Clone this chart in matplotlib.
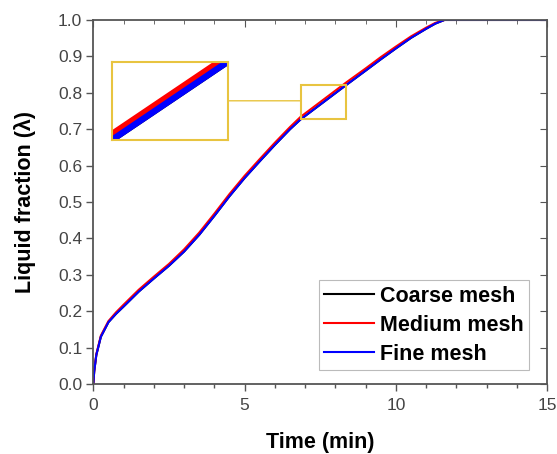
import matplotlib.pyplot as plt
import numpy as np
from matplotlib.patches import Rectangle, ConnectionPatch
from matplotlib.ticker import MultipleLocator

plt.rcParams['font.family'] = ['Liberation Sans', 'DejaVu Sans']

# czas topnienia (min) i udzial fazy cieklej dla trzech siatek
czas = [0, 0.03, 0.1, 0.25, 0.5, 0.75, 1.0, 1.5, 2.0, 2.5, 3.0, 3.5, 4.0,
        4.5, 5.0, 5.5, 6.0, 6.5, 6.85, 7.6, 8.35, 9.0, 9.5, 10.0, 10.5,
        11.0, 11.3, 11.6, 12.0, 13.0, 14.0, 15.0]
coarse = [0, 0.035, 0.08, 0.13, 0.17, 0.193, 0.213, 0.254, 0.29, 0.325,
          0.364, 0.41, 0.462, 0.516, 0.566, 0.612, 0.657, 0.700, 0.727,
          0.774, 0.821, 0.861, 0.892, 0.922, 0.951, 0.976, 0.990, 1.0,
          1.0, 1.0, 1.0, 1.0]
medium = [0, 0.036, 0.082, 0.133, 0.173, 0.197, 0.218, 0.259, 0.295, 0.330,
          0.370, 0.416, 0.468, 0.522, 0.572, 0.618, 0.663, 0.706, 0.734,
          0.781, 0.828, 0.867, 0.898, 0.927, 0.955, 0.979, 0.992, 1.0,
          1.0, 1.0, 1.0, 1.0]
fine = [0, 0.035, 0.08, 0.13, 0.17, 0.193, 0.213, 0.254, 0.29, 0.325,
        0.364, 0.41, 0.462, 0.516, 0.566, 0.612, 0.657, 0.700, 0.727,
        0.774, 0.821, 0.861, 0.892, 0.922, 0.951, 0.976, 0.990, 1.0,
        1.0, 1.0, 1.0, 1.0]
etykiety = ['Coarse mesh', 'Medium mesh', 'Fine mesh']
kolory = ['black', 'red', 'blue']

# obszar powiekszenia
zoom_x = (6.85, 8.35)
zoom_y = (0.727, 0.821)
zolty = '#e8c440'
szary = '#555555'

fig = plt.figure(figsize=(5.57, 4.54), dpi=100)
ax = fig.add_axes([0.1675, 0.154, 0.815, 0.802])

for y, lab, kol in zip([coarse, medium, fine], etykiety, kolory):
    ax.plot(czas, y, color=kol, lw=1.5, label=lab)

ax.set_xlim(0, 15)
ax.set_ylim(0, 1.0)
ax.xaxis.set_major_locator(MultipleLocator(5))
ax.xaxis.set_minor_locator(MultipleLocator(1))
ax.yaxis.set_major_locator(MultipleLocator(0.1))
ax.yaxis.set_major_formatter(plt.FuncFormatter(lambda v, p: f'{v:.1f}'))
for s in ax.spines.values():
    s.set_color(szary)
    s.set_linewidth(1.3)
ax.tick_params(which='both', direction='out', colors=szary, labelcolor='#444444',
               labelsize=12.5, width=1.0)
ax.tick_params(axis='x', pad=5)
ax.tick_params(axis='y', pad=3)
ax.tick_params(which='major', length=5)
ax.tick_params(which='minor', length=3)

# lustrzane podzialki na gorze i po prawej, skierowane do srodka
ax_top = ax.secondary_xaxis('top')
ax_top.xaxis.set_major_locator(MultipleLocator(5))
ax_top.xaxis.set_minor_locator(MultipleLocator(1))
ax_top.tick_params(which='both', direction='in', colors=szary, labeltop=False)
ax_top.tick_params(which='major', length=5)
ax_top.tick_params(which='minor', length=3)
ax_top.spines['top'].set_visible(False)
ax_right = ax.secondary_yaxis('right')
ax_right.yaxis.set_major_locator(MultipleLocator(0.1))
ax_right.tick_params(direction='in', colors=szary, labelright=False, length=5)
ax_right.spines['right'].set_visible(False)

ax.set_xlabel('Time (min)', fontsize=15.5, fontweight='bold', labelpad=14)
ax.set_ylabel('Liquid fraction (λ)', fontsize=15.5, fontweight='bold', labelpad=16)

leg = ax.legend(loc='lower right', prop={'weight': 'bold', 'size': 15.5},
                frameon=True, fancybox=False, edgecolor='#aaaaaa', handlelength=2.3,
                handletextpad=0.3, borderpad=0.25, labelspacing=0.38,
                borderaxespad=0, bbox_to_anchor=(0.96, 0.038))
leg.get_frame().set_linewidth(0.8)

# prostokat zaznaczajacy powiekszony fragment
ax.add_patch(Rectangle((zoom_x[0], zoom_y[0]), zoom_x[1] - zoom_x[0],
                       zoom_y[1] - zoom_y[0], fill=False, edgecolor=zolty, lw=1.5,
                       zorder=5))

# powiekszenie
axin = fig.add_axes([0.201, 0.692, 0.208, 0.172])
axin.plot(czas, coarse, color='black', lw=4.5)
axin.plot(czas, medium, color='red', lw=4.5)
axin.plot(czas, fine, color='blue', lw=4.5)
axin.set_xlim(*zoom_x)
axin.set_ylim(*zoom_y)
axin.set_xticks([])
axin.set_yticks([])
for s in axin.spines.values():
    s.set_color(zolty)
    s.set_linewidth(1.5)

# linia laczaca ramke z powiekszeniem, w poziomie
xa, ya = fig.transFigure.transform((0.201 + 0.208, 0.692 + 0.086))
_, y_dane = ax.transData.inverted().transform((xa, ya))
con = ConnectionPatch(xyA=(1, 0.5), coordsA=axin.transAxes,
                      xyB=(zoom_x[0], y_dane), coordsB=ax.transData,
                      color=zolty, lw=1.0)
fig.add_artist(con)

fig.savefig('out.png', dpi=100)
